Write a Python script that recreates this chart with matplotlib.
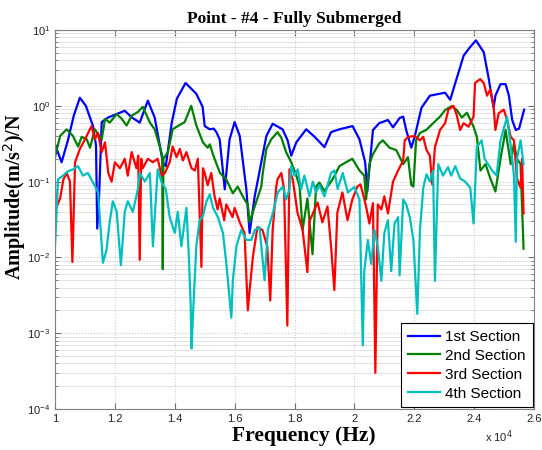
import matplotlib.pyplot as plt
from matplotlib.ticker import LogLocator, NullFormatter

# frequency (Hz) / amplitude pairs
freq_1 = [10000, 10220, 10430, 10630, 10830, 11030, 11270, 11370, 11410, 11470,
          11560, 11770, 12060, 12330, 12570, 12830, 13100, 13330, 13500, 13600,
          13700, 13900, 14070, 14360, 14720, 14930, 15000, 15170, 15300, 15390,
          15500, 15670, 15830, 16000, 16170, 16390, 16500, 16670, 16890, 17060,
          17270, 17600, 17770, 17890, 18060, 18390, 18670, 19000, 19220, 19500,
          19940, 20170, 20360, 20430, 20620, 20830, 21120, 21290, 21510, 21630,
          21730, 21900, 22020, 22240, 22520, 23030, 23200, 23370, 23650, 23870,
          24060, 24320, 24490, 24600, 24650, 24710, 24880, 25050, 25160, 25270,
          25390, 25500, 25670]
amp_1 = [0.31, 0.18, 0.35, 0.75, 1.28, 1.0, 0.54, 0.3, 0.024, 0.06,
         0.61, 0.7, 0.78, 0.86, 0.7, 0.6, 1.17, 0.7, 0.3, 0.18,
         0.16, 0.6, 1.24, 2.0, 1.44, 0.97, 0.54, 0.49, 0.5, 0.45,
         0.36, 0.079, 0.36, 0.61, 0.40, 0.08, 0.021, 0.064, 0.18, 0.40,
         0.58, 0.49, 0.35, 0.22, 0.33, 0.49, 0.39, 0.285, 0.45, 0.49,
         0.54, 0.36, 0.18, 0.074, 0.48, 0.59, 0.65, 0.52, 0.69, 0.72,
         0.48, 0.28, 0.4, 0.94, 1.36, 1.49, 1.2, 2.0, 4.6, 6.0,
         7.3, 5.1, 2.25, 1.2, 0.95, 1.36, 1.93, 1.93, 1.36, 0.65,
         0.48, 0.5, 0.89]

freq_2 = [10000, 10170, 10390, 10600, 10770, 10890, 11060, 11170, 11330, 11560,
          11670, 11830, 12060, 12220, 12390, 12560, 12770, 12930, 13170, 13330,
          13500, 13580, 13600, 13620, 13770, 13930, 14100, 14330, 14550, 14720,
          14940, 15100, 15170, 15290, 15510, 15720, 15940, 16100, 16330, 16440,
          16500, 16670, 16890, 16940, 17060, 17220, 17430, 17560, 17720, 17890,
          18060, 18170, 18270, 18430, 18600, 18720, 18830, 19000, 19270, 19500,
          19720, 19930, 20170, 20330, 20390, 20500, 20620, 20830, 20950, 21170,
          21400, 21630, 21790, 21900, 21970, 22060, 22190, 22400, 22630, 22860,
          23030, 23250, 23420, 23590, 23760, 23980, 24090, 24210, 24380, 24540,
          24710, 24880, 25050, 25220, 25330, 25430, 25550, 25650]
amp_2 = [0.21, 0.40, 0.49, 0.40, 0.29, 0.39, 0.36, 0.28, 0.49, 0.36,
         0.67, 0.60, 0.78, 0.68, 0.55, 0.74, 0.83, 0.97, 0.6, 0.49,
         0.29, 0.22, 0.007, 0.2, 0.245, 0.49, 0.54, 0.61, 1.0, 0.55,
         0.33, 0.28, 0.31, 0.22, 0.13, 0.107, 0.07, 0.086, 0.058, 0.05,
         0.029, 0.047, 0.086, 0.13, 0.27, 0.36, 0.45, 0.38, 0.245, 0.18,
         0.12, 0.086, 0.023, 0.06, 0.011, 0.086, 0.097, 0.075, 0.107, 0.16,
         0.18, 0.2, 0.14, 0.12, 0.058, 0.17, 0.23, 0.32, 0.35, 0.28,
         0.26, 0.17, 0.21, 0.09, 0.086, 0.35, 0.44, 0.48, 0.59, 0.72,
         0.88, 0.99, 0.88, 0.7, 0.81, 0.53, 0.39, 0.14, 0.17, 0.11,
         0.074, 0.2, 0.48, 0.17, 0.32, 0.2, 0.17, 0.013]

freq_3 = [10000, 10060, 10170, 10280, 10390, 10500, 10580, 10670, 10830, 11000,
          11220, 11330, 11430, 11560, 11670, 11780, 11890, 12000, 12170, 12330,
          12430, 12560, 12720, 12780, 12830, 12880, 12930, 13100, 13270, 13430,
          13560, 13670, 13830, 13930, 14060, 14170, 14270, 14390, 14560, 14670,
          14770, 14890, 14940, 15000, 15100, 15220, 15330, 15430, 15500, 15650,
          15720, 15930, 16000, 16170, 16330, 16440, 16500, 16610, 16760, 16930,
          17090, 17190, 17270, 17390, 17430, 17560, 17650, 17760, 17830, 17940,
          18100, 18270, 18430, 18500, 18770, 18930, 19100, 19220, 19330, 19430,
          19600, 19770, 19930, 20100, 20200, 20280, 20390, 20500, 20620, 20700,
          20780, 20900, 21000, 21120, 21230, 21290, 21460, 21630, 21680, 21800,
          22020, 22190, 22300, 22410, 22520, 22600, 22690, 22860, 23030, 23140,
          23310, 23420, 23530, 23650, 23810, 23980, 24030, 24200, 24320, 24430,
          24540, 24650, 24710, 24820, 24990, 25100, 25220, 25330, 25430, 25550,
          25600, 25650]
amp_3 = [0.078, 0.047, 0.06, 0.107, 0.13, 0.1, 0.0087, 0.18, 0.27, 0.36,
         0.54, 0.36, 0.44, 0.245, 0.33, 0.13, 0.1, 0.18, 0.15, 0.2,
         0.12, 0.245, 0.15, 0.22, 0.0093, 0.2, 0.15, 0.2, 0.18, 0.2,
         0.12, 0.13, 0.18, 0.29, 0.21, 0.27, 0.19, 0.245, 0.15, 0.14,
         0.2, 0.0075, 0.15, 0.13, 0.09, 0.13, 0.064, 0.043, 0.06, 0.031,
         0.05, 0.034, 0.045, 0.029, 0.021, 0.002, 0.0037, 0.0102, 0.025, 0.023,
         0.014, 0.0027, 0.023, 0.086, 0.107, 0.13, 0.08, 0.00126, 0.145, 0.107,
         0.039, 0.023, 0.0064, 0.03, 0.053, 0.029, 0.047, 0.014, 0.0037, 0.039,
         0.072, 0.031, 0.058, 0.086, 0.092, 0.071, 0.047, 0.028, 0.052, 0.0003,
         0.05, 0.043, 0.064, 0.038, 0.071, 0.1, 0.14, 0.19, 0.35, 0.39,
         0.4, 0.35, 0.39, 0.26, 0.22, 0.092, 0.285, 0.48, 0.59, 0.89,
         1.0, 0.75, 0.48, 0.59, 0.53, 0.72, 2.0, 2.25, 2.0, 1.36,
         1.65, 1.0, 0.48, 0.8, 0.89, 0.65, 0.39, 0.35, 0.11, 0.083,
         0.2, 0.038]

freq_4 = [10000, 10100, 10270, 10430, 10600, 10770, 10930, 11100, 11270, 11390,
          11440, 11600, 11720, 11830, 11930, 12060, 12200, 12330, 12430, 12600,
          12770, 12830, 13000, 13170, 13270, 13430, 13560, 13700, 13830, 14000,
          14100, 14220, 14390, 14470, 14530, 14560, 14610, 14720, 14830, 14940,
          15060, 15170, 15280, 15440, 15610, 15720, 15890, 15940, 16060, 16220,
          16390, 16560, 16670, 16830, 17000, 17110, 17280, 17440, 17610, 17720,
          17830, 17890, 18000, 18110, 18220, 18330, 18500, 18610, 18720, 18830,
          19000, 19220, 19330, 19440, 19610, 19780, 20000, 20170, 20280, 20330,
          20450, 20560, 20670, 20780, 20900, 21000, 21120, 21230, 21340, 21460,
          21510, 21630, 21730, 21850, 21970, 22100, 22190, 22300, 22410, 22520,
          22630, 22690, 22800, 22960, 23130, 23230, 23370, 23530, 23700, 23870,
          23980, 24090, 24250, 24350, 24600, 24750, 24880, 25100, 25220, 25330,
          25390, 25430, 25550, 25650]
amp_4 = [0.014, 0.107, 0.12, 0.137, 0.145, 0.16, 0.12, 0.13, 0.097, 0.079,
         0.072, 0.0085, 0.0125, 0.03, 0.055, 0.04, 0.0079, 0.04, 0.055, 0.04,
         0.08, 0.13, 0.1, 0.13, 0.014, 0.145, 0.097, 0.08, 0.034, 0.021,
         0.04, 0.014, 0.045, 0.0102, 0.0025, 0.00063, 0.0018, 0.014, 0.031, 0.035,
         0.055, 0.068, 0.045, 0.034, 0.021, 0.0085, 0.0016, 0.005, 0.014, 0.023,
         0.017, 0.017, 0.023, 0.025, 0.005, 0.023, 0.039, 0.072, 0.086, 0.058,
         0.08, 0.16, 0.12, 0.145, 0.079, 0.12, 0.064, 0.1, 0.072, 0.09,
         0.064, 0.13, 0.14, 0.08, 0.13, 0.072, 0.085, 0.058, 0.00069, 0.0066,
         0.017, 0.0082, 0.023, 0.014, 0.0049, 0.021, 0.031, 0.0066, 0.028, 0.034,
         0.0058, 0.058, 0.05, 0.034, 0.017, 0.0018, 0.023, 0.083, 0.125, 0.1,
         0.14, 0.0049, 0.17, 0.12, 0.155, 0.12, 0.16, 0.11, 0.1, 0.083,
         0.028, 0.285, 0.35, 0.2, 0.14, 0.12, 0.35, 0.72, 0.3, 0.12,
         0.016, 0.2, 0.35, 0.17]

labels = ["1st Section", "2nd Section", "3rd Section", "4th Section"]
colors = ["#0000ff", "#008000", "#ff0000", "#00bfbf"]

xticks = [10000, 12000, 14000, 16000, 18000, 20000, 22000, 24000, 26000]
xtick_labels = ["1", "1.2", "1.4", "1.6", "1.8", "2", "2.2", "2.4", "2.6"]

fig = plt.figure(figsize=(5.42, 4.5), dpi=100)
ax = fig.add_axes([0.1015, 0.0911, 0.8838, 0.8422])

series = [(freq_1, amp_1), (freq_2, amp_2), (freq_3, amp_3), (freq_4, amp_4)]
for (f, a), name, c in zip(series, labels, colors):
    ax.semilogy(f, a, color=c, lw=1.6, label=name)

ax.set_xlim(10000, 26000)
ax.set_ylim(1e-4, 10)
ax.set_xticks(xticks)
ax.set_xticklabels(xtick_labels)
ax.yaxis.set_major_locator(LogLocator(base=10, numticks=10))
ax.yaxis.set_minor_locator(LogLocator(base=10, subs=range(2, 10), numticks=20))
ax.yaxis.set_minor_formatter(NullFormatter())

ax.grid(True, which="major", color="#cccccc", ls=":", lw=0.8)
ax.grid(True, which="minor", axis="y", color="#dddddd", ls="-", lw=0.6)

ax.tick_params(which="both", direction="in", top=True, right=True,
               color="#707070", labelcolor="#222222", labelsize=8)
ax.tick_params(which="major", length=4)
ax.tick_params(which="minor", length=2)
for s in ax.spines.values():
    s.set_color("#808080")
for lab in ax.get_xticklabels() + ax.get_yticklabels():
    lab.set_family("Liberation Sans")

ax.set_title("Point - #4 - Fully Submerged", family="Liberation Serif",
             fontweight="bold", fontsize=12.5, pad=5)
ax.set_xlabel("Frequency (Hz)", family="Liberation Serif", fontweight="bold",
              fontsize=15.5)
ax.xaxis.set_label_coords(0.52, -0.045)
ax.set_ylabel("Amplitude(m/s$^2$)/N", family="Liberation Serif",
              fontweight="bold", fontsize=14.5)
ax.yaxis.set_label_coords(-0.057, 0.56)
ax.text(0.955, -0.052, "x 10$^4$", transform=ax.transAxes, ha="right",
        va="top", fontsize=8, family="Liberation Sans", color="#222222")

leg = ax.legend(loc="lower right", fancybox=False,
                framealpha=1, edgecolor="black", handlelength=2.1,
                handletextpad=0.35, borderpad=0.45, borderaxespad=0.1,
                labelspacing=0.32,
                prop={"family": "Liberation Sans", "size": 11})
leg.get_frame().set_linewidth(0.8)

fig.savefig("out.png", dpi=100)
plt.close(fig)
